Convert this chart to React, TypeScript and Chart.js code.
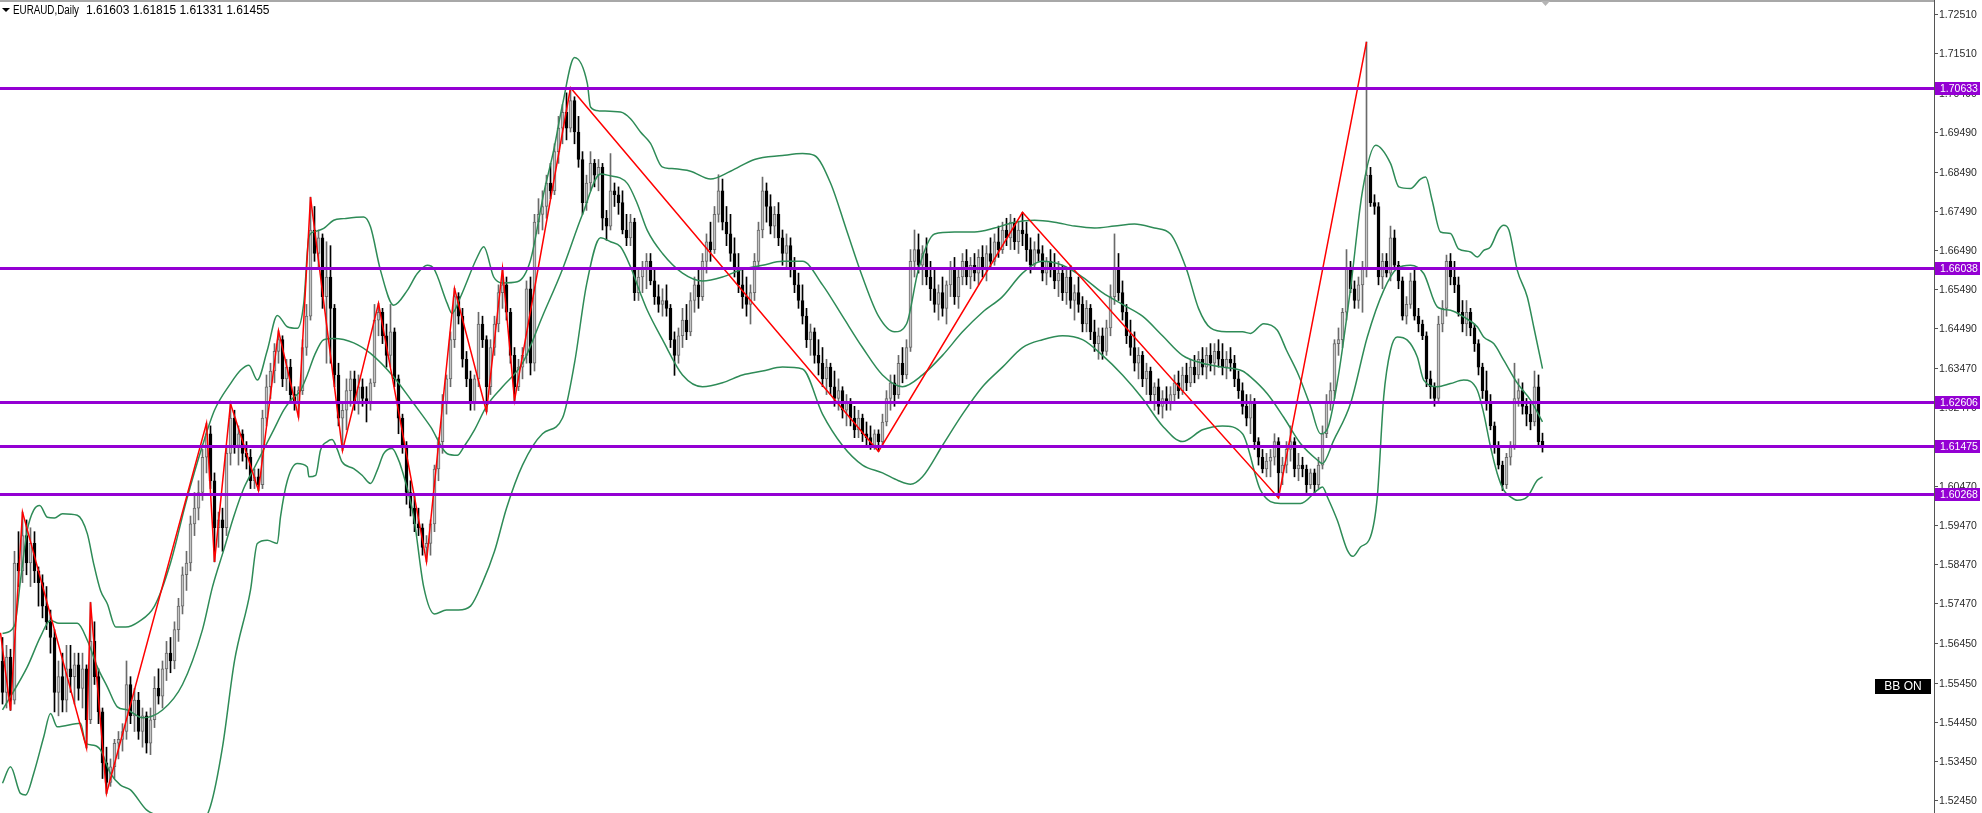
import React, { useEffect, useRef } from "react";
import { Chart, registerables } from "chart.js";

Chart.register(...registerables);

const opens = [
1.5600,1.5520,1.5610,1.5500,1.5850,1.5830,1.5920,1.5850,1.5900,1.5830,
1.5800,1.5740,1.5700,1.5660,1.5520,1.5560,1.5500,1.5580,1.5560,1.5590,
1.5530,1.5580,1.5450,1.5650,1.5560,1.5470,1.5340,1.5290,1.5330,1.5390,
1.5400,1.5420,1.5540,1.5460,1.5500,1.5420,1.5460,1.5390,1.5450,1.5530,
1.5510,1.5580,1.5620,1.5600,1.5680,1.5740,1.5820,1.5850,1.5950,1.5990,
1.6030,1.6120,1.6180,1.6060,1.5940,1.5960,1.5940,1.6130,1.6220,1.6150,
1.6180,1.6130,1.6120,1.6060,1.6070,1.6050,1.6220,1.6300,1.6340,1.6390,
1.6420,1.6320,1.6350,1.6280,1.6260,1.6290,1.6400,1.6480,1.6700,1.6640,
1.6680,1.6530,1.6580,1.6500,1.6330,1.6220,1.6240,1.6290,1.6320,1.6260,
1.6300,1.6270,1.6260,1.6310,1.6470,1.6490,1.6430,1.6380,1.6440,1.6320,
1.6220,1.6150,1.6030,1.5990,1.5950,1.5940,1.5890,1.5900,1.5950,1.6090,
1.6160,1.6260,1.6320,1.6420,1.6530,1.6480,1.6370,1.6320,1.6260,1.6320,
1.6460,1.6420,1.6300,1.6400,1.6460,1.6540,1.6560,1.6490,1.6380,1.6300,
1.6350,1.6380,1.6550,1.6360,1.6720,1.6740,1.6760,1.6820,1.6800,1.6900,
1.6960,1.7000,1.6960,1.7030,1.6950,1.6880,1.6770,1.6820,1.6870,1.6840,
1.6860,1.6730,1.6710,1.6800,1.6790,1.6770,1.6700,1.6680,1.6720,1.6540,
1.6580,1.6600,1.6620,1.6570,1.6530,1.6510,1.6520,1.6500,1.6420,1.6380,
1.6430,1.6470,1.6440,1.6520,1.6560,1.6530,1.6620,1.6670,1.6650,1.6740,
1.6800,1.6720,1.6690,1.6640,1.6600,1.6560,1.6530,1.6510,1.6540,1.6620,
1.6700,1.6800,1.6760,1.6710,1.6740,1.6680,1.6640,1.6660,1.6600,1.6560,
1.6520,1.6480,1.6420,1.6440,1.6380,1.6360,1.6320,1.6350,1.6300,1.6270,
1.6290,1.6240,1.6260,1.6220,1.6190,1.6220,1.6180,1.6170,1.6150,1.6180,
1.6160,1.6210,1.6270,1.6310,1.6280,1.6360,1.6330,1.6400,1.6620,1.6650,
1.6610,1.6640,1.6580,1.6550,1.6510,1.6540,1.6500,1.6560,1.6600,1.6530,
1.6580,1.6620,1.6580,1.6610,1.6590,1.6630,1.6600,1.6640,1.6620,1.6670,
1.6650,1.6700,1.6680,1.6720,1.6670,1.6700,1.6690,1.6650,1.6610,1.6650,
1.6640,1.6590,1.6620,1.6600,1.6570,1.6590,1.6540,1.6580,1.6520,1.6540,
1.6510,1.6460,1.6500,1.6440,1.6410,1.6430,1.6390,1.6450,1.6530,1.6600,
1.6540,1.6490,1.6430,1.6400,1.6360,1.6380,1.6320,1.6340,1.6280,1.6300,
1.6250,1.6270,1.6260,1.6280,1.6310,1.6290,1.6330,1.6310,1.6350,1.6330,
1.6370,1.6350,1.6380,1.6360,1.6390,1.6370,1.6350,1.6370,1.6360,1.6320,
1.6290,1.6250,1.6220,1.6260,1.6160,1.6120,1.6090,1.6110,1.6120,1.6160,
1.6080,1.6100,1.6140,1.6160,1.6090,1.6100,1.6090,1.6050,1.6080,1.6050,
1.6100,1.6180,1.6260,1.6290,1.6410,1.6420,1.6490,1.6600,1.6550,1.6520,
1.6560,1.6600,1.6840,1.6770,1.6760,1.6580,1.6620,1.6590,1.6680,1.6610,
1.6570,1.6480,1.6510,1.6570,1.6480,1.6460,1.6430,1.6320,1.6300,1.6270,
1.6460,1.6500,1.6620,1.6580,1.6560,1.6490,1.6460,1.6490,1.6450,1.6410,
1.6350,1.6290,1.6260,1.6200,1.6150,1.6100,1.6050,1.6120,1.6150,1.6270,
1.6290,1.6250,1.6230,1.6210,1.6300,1.61603
];

const highs = [
1.5660,1.5640,1.5630,1.5880,1.5930,1.5980,1.5960,1.5940,1.5930,1.5840,
1.5820,1.5790,1.5730,1.5680,1.5600,1.5620,1.5640,1.5640,1.5620,1.5620,
1.5620,1.5590,1.5750,1.5700,1.5580,1.5480,1.5380,1.5350,1.5400,1.5420,
1.5440,1.5600,1.5560,1.5530,1.5520,1.5480,1.5470,1.5480,1.5560,1.5580,
1.5600,1.5650,1.5660,1.5700,1.5760,1.5840,1.5880,1.5970,1.6030,1.6060,
1.6140,1.6207,1.6200,1.6080,1.5980,1.5990,1.6150,1.6257,1.6240,1.6200,
1.6190,1.6160,1.6140,1.6090,1.6090,1.6240,1.6330,1.6360,1.6410,1.6443,
1.6430,1.6370,1.6370,1.6300,1.6300,1.6420,1.6510,1.6784,1.6760,1.6700,
1.6690,1.6670,1.6660,1.6510,1.6360,1.6260,1.6320,1.6340,1.6340,1.6330,
1.6320,1.6300,1.6320,1.6510,1.6513,1.6500,1.6460,1.6510,1.6450,1.6330,
1.6230,1.6160,1.6060,1.6020,1.5990,1.5950,1.5920,1.5960,1.6100,1.6170,
1.6280,1.6330,1.6440,1.6551,1.6540,1.6500,1.6390,1.6340,1.6330,1.6490,
1.6480,1.6430,1.6420,1.6480,1.6560,1.6602,1.6580,1.6500,1.6400,1.6370,
1.6400,1.6570,1.6580,1.6740,1.6780,1.6800,1.6840,1.6870,1.6920,1.6990,
1.7020,1.7050,1.7063,1.7040,1.6990,1.6900,1.6840,1.6900,1.6880,1.6880,
1.6870,1.6750,1.6895,1.6820,1.6810,1.6800,1.6740,1.6740,1.6730,1.6600,
1.6620,1.6640,1.6640,1.6600,1.6560,1.6550,1.6560,1.6510,1.6440,1.6450,
1.6500,1.6510,1.6540,1.6580,1.6600,1.6640,1.6690,1.6720,1.6760,1.6841,
1.6830,1.6760,1.6740,1.6680,1.6640,1.6600,1.6580,1.6560,1.6640,1.6720,
1.6835,1.6820,1.6790,1.6760,1.6770,1.6700,1.6690,1.6680,1.6630,1.6590,
1.6560,1.6500,1.6460,1.6450,1.6420,1.6400,1.6370,1.6360,1.6340,1.6320,
1.6300,1.6280,1.6270,1.6250,1.6240,1.6230,1.6210,1.6200,1.6190,1.6190,
1.6230,1.6290,1.6330,1.6330,1.6380,1.6400,1.6420,1.6650,1.6700,1.6690,
1.6660,1.6680,1.6620,1.6600,1.6560,1.6580,1.6570,1.6620,1.6630,1.6600,
1.6640,1.6650,1.6630,1.6640,1.6650,1.6660,1.6660,1.6680,1.6690,1.6710,
1.6720,1.6730,1.6740,1.6730,1.6720,1.6745,1.6720,1.6680,1.6670,1.6690,
1.6660,1.6630,1.6650,1.6640,1.6620,1.6610,1.6600,1.6610,1.6560,1.6580,
1.6530,1.6520,1.6510,1.6470,1.6450,1.6450,1.6470,1.6560,1.6690,1.6640,
1.6570,1.6510,1.6470,1.6440,1.6400,1.6390,1.6360,1.6350,1.6310,1.6320,
1.6290,1.6300,1.6300,1.6330,1.6340,1.6350,1.6360,1.6370,1.6380,1.6390,
1.6400,1.6400,1.6410,1.6410,1.6420,1.6410,1.6390,1.6400,1.6380,1.6340,
1.6310,1.6280,1.6280,1.6270,1.6170,1.6140,1.6130,1.6140,1.6180,1.6170,
1.6120,1.6160,1.6200,1.6170,1.6130,1.6120,1.6100,1.6090,1.6090,1.6120,
1.6200,1.6280,1.6310,1.6420,1.6450,1.6500,1.6650,1.6620,1.6570,1.6580,
1.6620,1.7180,1.6860,1.6790,1.6770,1.6640,1.6640,1.6710,1.6700,1.6620,
1.6580,1.6530,1.6590,1.6600,1.6500,1.6470,1.6440,1.6340,1.6310,1.6480,
1.6520,1.6636,1.6640,1.6620,1.6580,1.6520,1.6520,1.6500,1.6460,1.6420,
1.6360,1.6340,1.6280,1.6210,1.6160,1.6110,1.6130,1.6160,1.6360,1.6320,
1.6310,1.6270,1.6260,1.6340,1.6330,1.61815
];

const lows = [
1.5490,1.5480,1.5474,1.5490,1.5790,1.5800,1.5820,1.5790,1.5800,1.5740,
1.5710,1.5680,1.5620,1.5470,1.5460,1.5470,1.5470,1.5520,1.5490,1.5500,
1.5480,1.5378,1.5440,1.5540,1.5440,1.5300,1.5262,1.5280,1.5300,1.5350,
1.5370,1.5400,1.5440,1.5420,1.5400,1.5380,1.5365,1.5361,1.5430,1.5490,
1.5480,1.5550,1.5570,1.5580,1.5650,1.5720,1.5780,1.5830,1.5920,1.5960,
1.6010,1.6080,1.6040,1.5853,1.5890,1.5880,1.5920,1.6100,1.6130,1.6100,
1.6110,1.6090,1.6040,1.6040,1.6035,1.6040,1.6200,1.6270,1.6310,1.6360,
1.6300,1.6290,1.6260,1.6240,1.6222,1.6280,1.6380,1.6470,1.6620,1.6600,
1.6500,1.6360,1.6360,1.6300,1.6200,1.6137,1.6190,1.6250,1.6240,1.6230,
1.6250,1.6210,1.6240,1.6300,1.6430,1.6410,1.6350,1.6350,1.6300,1.6180,
1.6130,1.6000,1.5970,1.5930,1.5920,1.5870,1.5853,1.5870,1.5930,1.6060,
1.6130,1.6230,1.6300,1.6400,1.6460,1.6350,1.6300,1.6240,1.6240,1.6300,
1.6400,1.6236,1.6280,1.6380,1.6440,1.6500,1.6470,1.6360,1.6265,1.6290,
1.6320,1.6360,1.6330,1.6340,1.6690,1.6700,1.6730,1.6780,1.6790,1.6870,
1.6920,1.6930,1.6950,1.6920,1.6860,1.6740,1.6750,1.6800,1.6810,1.6800,
1.6700,1.6674,1.6700,1.6760,1.6740,1.6690,1.6660,1.6660,1.6520,1.6520,
1.6540,1.6550,1.6560,1.6510,1.6490,1.6480,1.6480,1.6400,1.6329,1.6360,
1.6400,1.6420,1.6430,1.6490,1.6500,1.6520,1.6590,1.6620,1.6640,1.6720,
1.6700,1.6660,1.6620,1.6580,1.6540,1.6500,1.6480,1.6460,1.6520,1.6600,
1.6680,1.6720,1.6690,1.6680,1.6660,1.6610,1.6600,1.6580,1.6540,1.6500,
1.6460,1.6400,1.6380,1.6360,1.6330,1.6300,1.6280,1.6280,1.6250,1.6240,
1.6220,1.6200,1.6200,1.6170,1.6170,1.6160,1.6150,1.6140,1.6140,1.6135,
1.6150,1.6200,1.6240,1.6250,1.6270,1.6310,1.6320,1.6390,1.6580,1.6590,
1.6560,1.6560,1.6520,1.6490,1.6470,1.6480,1.6460,1.6530,1.6510,1.6500,
1.6560,1.6560,1.6550,1.6570,1.6560,1.6580,1.6570,1.6600,1.6610,1.6630,
1.6640,1.6660,1.6650,1.6650,1.6640,1.6660,1.6620,1.6590,1.6600,1.6620,
1.6570,1.6560,1.6580,1.6550,1.6530,1.6520,1.6510,1.6500,1.6470,1.6490,
1.6440,1.6440,1.6420,1.6390,1.6370,1.6370,1.6380,1.6430,1.6510,1.6520,
1.6470,1.6410,1.6380,1.6340,1.6320,1.6300,1.6280,1.6260,1.6240,1.6230,
1.6220,1.6240,1.6240,1.6260,1.6270,1.6280,1.6290,1.6300,1.6310,1.6320,
1.6330,1.6320,1.6340,1.6330,1.6350,1.6330,1.6320,1.6340,1.6300,1.6270,
1.6230,1.6200,1.6180,1.6140,1.6100,1.6080,1.6070,1.6070,1.6100,1.6016,
1.6050,1.6080,1.6110,1.6070,1.6060,1.6070,1.6030,1.6040,1.6030,1.6040,
1.6090,1.6170,1.6240,1.6270,1.6380,1.6400,1.6470,1.6540,1.6500,1.6500,
1.6490,1.6580,1.6760,1.6740,1.6560,1.6550,1.6580,1.6570,1.6600,1.6550,
1.6470,1.6460,1.6500,1.6470,1.6440,1.6420,1.6300,1.6270,1.6250,1.6260,
1.6440,1.6480,1.6560,1.6540,1.6480,1.6440,1.6430,1.6430,1.6390,1.6330,
1.6270,1.6240,1.6190,1.6130,1.6090,1.6035,1.6040,1.6100,1.6140,1.6250,
1.6230,1.6200,1.6190,1.6200,1.6150,1.61331
];

const closes = [
1.5520,1.5610,1.5500,1.5850,1.5830,1.5920,1.5850,1.5900,1.5830,1.5800,
1.5740,1.5700,1.5660,1.5520,1.5560,1.5500,1.5580,1.5560,1.5590,1.5530,
1.5580,1.5450,1.5650,1.5560,1.5470,1.5340,1.5290,1.5330,1.5390,1.5400,
1.5420,1.5540,1.5460,1.5500,1.5420,1.5460,1.5390,1.5450,1.5530,1.5510,
1.5580,1.5620,1.5600,1.5680,1.5740,1.5820,1.5850,1.5950,1.5990,1.6030,
1.6120,1.6180,1.6060,1.5940,1.5960,1.5940,1.6130,1.6220,1.6150,1.6180,
1.6130,1.6120,1.6060,1.6070,1.6050,1.6220,1.6300,1.6340,1.6390,1.6420,
1.6320,1.6350,1.6280,1.6260,1.6290,1.6400,1.6480,1.6700,1.6640,1.6680,
1.6530,1.6580,1.6500,1.6330,1.6220,1.6240,1.6290,1.6320,1.6260,1.6300,
1.6270,1.6260,1.6310,1.6470,1.6490,1.6430,1.6380,1.6440,1.6320,1.6220,
1.6150,1.6030,1.5990,1.5950,1.5940,1.5890,1.5900,1.5950,1.6090,1.6160,
1.6260,1.6320,1.6420,1.6530,1.6480,1.6370,1.6320,1.6260,1.6320,1.6460,
1.6420,1.6300,1.6400,1.6460,1.6540,1.6560,1.6490,1.6380,1.6300,1.6350,
1.6380,1.6550,1.6360,1.6720,1.6740,1.6760,1.6820,1.6800,1.6900,1.6960,
1.7000,1.6960,1.7030,1.6950,1.6880,1.6770,1.6820,1.6870,1.6840,1.6860,
1.6730,1.6710,1.6800,1.6790,1.6770,1.6700,1.6680,1.6720,1.6540,1.6580,
1.6600,1.6620,1.6570,1.6530,1.6510,1.6520,1.6500,1.6420,1.6380,1.6430,
1.6470,1.6440,1.6520,1.6560,1.6530,1.6620,1.6670,1.6650,1.6740,1.6800,
1.6720,1.6690,1.6640,1.6600,1.6560,1.6530,1.6510,1.6540,1.6620,1.6700,
1.6800,1.6760,1.6710,1.6740,1.6680,1.6640,1.6660,1.6600,1.6560,1.6520,
1.6480,1.6420,1.6440,1.6380,1.6360,1.6320,1.6350,1.6300,1.6270,1.6290,
1.6240,1.6260,1.6220,1.6190,1.6220,1.6180,1.6170,1.6150,1.6180,1.6160,
1.6210,1.6270,1.6310,1.6280,1.6360,1.6330,1.6400,1.6620,1.6650,1.6610,
1.6640,1.6580,1.6550,1.6510,1.6540,1.6500,1.6560,1.6600,1.6530,1.6580,
1.6620,1.6580,1.6610,1.6590,1.6630,1.6600,1.6640,1.6620,1.6670,1.6650,
1.6700,1.6680,1.6720,1.6670,1.6700,1.6690,1.6650,1.6610,1.6650,1.6640,
1.6590,1.6620,1.6600,1.6570,1.6590,1.6540,1.6580,1.6520,1.6540,1.6510,
1.6460,1.6500,1.6440,1.6410,1.6430,1.6390,1.6450,1.6530,1.6600,1.6540,
1.6490,1.6430,1.6400,1.6360,1.6380,1.6320,1.6340,1.6280,1.6300,1.6250,
1.6270,1.6260,1.6280,1.6310,1.6290,1.6330,1.6310,1.6350,1.6330,1.6370,
1.6350,1.6380,1.6360,1.6390,1.6370,1.6350,1.6370,1.6360,1.6320,1.6290,
1.6250,1.6220,1.6260,1.6160,1.6120,1.6090,1.6110,1.6120,1.6160,1.6080,
1.6100,1.6140,1.6160,1.6090,1.6100,1.6090,1.6050,1.6080,1.6050,1.6100,
1.6180,1.6260,1.6290,1.6410,1.6420,1.6490,1.6600,1.6550,1.6520,1.6560,
1.6600,1.6840,1.6770,1.6760,1.6580,1.6620,1.6590,1.6680,1.6610,1.6570,
1.6480,1.6510,1.6570,1.6480,1.6460,1.6430,1.6320,1.6300,1.6270,1.6460,
1.6500,1.6620,1.6580,1.6560,1.6490,1.6460,1.6490,1.6450,1.6410,1.6350,
1.6290,1.6260,1.6200,1.6150,1.6100,1.6050,1.6120,1.6150,1.6270,1.6290,
1.6250,1.6230,1.6210,1.6300,1.6160,1.61455
];

const yTickValues = [
1.72510,1.71510,1.70490,1.69490,1.68490,1.67490,1.66490,1.65490,1.64490,1.63470,
1.62470,1.61470,1.60470,1.59470,1.58470,1.57470,1.56450,1.55450,1.54450,1.53450,1.52450
];

const levelValues = [1.70633, 1.66038, 1.62606, 1.61475, 1.60268];

const zigzag = [
[-0.5,1.5672],[2,1.5474],[5,1.5980],[21,1.5378],[22,1.5750],[26,1.5262],[51,1.6207],
[53,1.5853],[57,1.6257],[64,1.6035],[69,1.6443],[74,1.6222],[77,1.6784],[85,1.6137],
[94,1.6513],[106,1.5853],[113,1.6551],[121,1.6236],[125,1.6602],[128,1.6265],
[142,1.7063],[219,1.6135],[255,1.6745],[319,1.6016],[341,1.7180]
];

const bbUpper = [
[0,1.5670],[3,1.5690],[4.5,1.5806],[6.2,1.5934],[7.8,1.5985],[9.3,1.5997],[11.2,1.5967],[13,1.5965],
[15,1.5976],[18.7,1.5972],[21.2,1.5925],[22.8,1.5848],[24.5,1.5780],[26.2,1.5746],[28.3,1.5687],
[30.8,1.5687],[34,1.5700],[38,1.5740],[42,1.5850],[46,1.6010],[50,1.6150],[53,1.6240],[57,1.6308],
[59.5,1.6342],[61.6,1.6355],[63.7,1.6317],[66.2,1.6393],[68.7,1.6482],[71.2,1.6453],[73.7,1.6449],
[75.3,1.6512],[76.6,1.6682],[77.8,1.6695],[80.3,1.6704],[82.8,1.6725],[85.3,1.6729],[90.3,1.6733],
[92,1.6708],[94.5,1.6597],[97.8,1.6508],[101.2,1.6546],[103.7,1.6589],[106.2,1.6610],[107.8,1.6602],
[111.2,1.6512],[112.4,1.6487],[114.5,1.6529],[118.7,1.6631],[120.3,1.6657],[122.8,1.6580],[125,1.6565],
[128.7,1.6568],[132,1.6623],[135.3,1.6793],[137.8,1.6904],[140,1.7020],[143,1.7140],[146.2,1.7074],
[147,1.7014],[149.1,1.7004],[154.5,1.7001],[157,1.6984],[159.5,1.6950],[162,1.6921],[164.9,1.6861],
[167,1.6857],[172,1.6850],[177,1.6830],[182,1.6850],[188,1.6880],[195,1.6890],[200,1.6895],[203,1.6890],
[207,1.6820],[211,1.6700],[215,1.6580],[219,1.6480],[223,1.6440],[226,1.6460],[229,1.6600],[233,1.6690],
[238,1.6695],[243,1.6695],[248,1.6705],[253,1.6720],[258,1.6725],[263,1.6720],[268,1.6710],[273,1.6705],
[278,1.6710],[283,1.6715],[288,1.6705],[292,1.6690],[296,1.6600],[299,1.6500],[302,1.6450],[306,1.6440],
[310,1.6440],[312,1.6436],[315.3,1.6461],[318.7,1.6444],[321,1.6393],[324,1.6330],[327,1.6250],
[329.5,1.6180],[331.5,1.6200],[334,1.6330],[337,1.6550],[340,1.6800],[343.3,1.6916],[347,1.6870],
[349.1,1.6810],[352,1.6806],[354.5,1.6830],[355.8,1.6835],[357.4,1.6776],[359.5,1.6695],[362,1.6691],
[364,1.6652],[367,1.6644],[368.7,1.6631],[370.3,1.6648],[372,1.6657],[374,1.6700],[375.3,1.6712],
[376.6,1.6700],[378.7,1.6597],[381.2,1.6529],[382.8,1.6453],[385,1.6346]
];

const bbMiddle = [
[0,1.5475],[6.2,1.5585],[9.5,1.5662],[12,1.5704],[14.1,1.5696],[18.7,1.5696],[21.2,1.5653],[23.7,1.5585],
[26.2,1.5534],[28.7,1.5483],[31.2,1.5475],[35,1.5455],[40,1.5475],[45,1.5540],[50,1.5680],[52.5,1.5789],
[55.3,1.5883],[57.8,1.5968],[60.3,1.6040],[62.8,1.6090],[65.3,1.6140],[67.8,1.6190],[70.3,1.6240],
[72,1.6265],[74.5,1.6290],[76.2,1.6330],[78,1.6380],[80.3,1.6420],[82.8,1.6423],[87.8,1.6412],
[92,1.6385],[97.8,1.6325],[102.8,1.6257],[107,1.6198],[111.2,1.6129],[113.7,1.6125],[115.3,1.6146],
[118,1.6190],[121,1.6250],[125,1.6300],[130,1.6360],[135,1.6480],[140,1.6600],[145,1.6740],
[149.5,1.6843],[151.2,1.6840],[156.2,1.6819],[158.7,1.6767],[161.2,1.6699],[165,1.6640],[170,1.6590],
[175,1.6570],[180,1.6580],[185,1.6600],[190,1.6610],[195,1.6620],[200,1.6620],[205,1.6560],[210,1.6480],
[215,1.6400],[220,1.6330],[225,1.6300],[230,1.6330],[235,1.6380],[240,1.6440],[245,1.6490],[250,1.6530],
[255,1.6590],[260,1.6620],[265,1.6610],[270,1.6580],[275,1.6540],[280,1.6510],[285,1.6480],[290,1.6430],
[295,1.6380],[300,1.6360],[305,1.6350],[310,1.6340],[312,1.6325],[316.2,1.6282],[320.3,1.6222],
[324.5,1.6155],[328.7,1.6113],[330,1.6104],[332.8,1.6163],[337,1.6257],[341.2,1.6427],[345.3,1.6546],
[348.7,1.6602],[352,1.6610],[355.3,1.6589],[358.7,1.6504],[362,1.6495],[365.3,1.6478],[368.7,1.6453],
[370.3,1.6427],[372.8,1.6410],[375.3,1.6368],[378.7,1.6309],[382,1.6266],[385,1.6210]
];

const bbLower = [
[0,1.5288],[2,1.5330],[4.5,1.5262],[5.8,1.5258],[7.8,1.5313],[10.3,1.5406],[12,1.5466],[13.7,1.5432],
[19.5,1.5441],[20.8,1.5390],[22.8,1.5385],[24.5,1.5373],[27,1.5313],[29.5,1.5283],[32,1.5271],
[36,1.5220],[40,1.5200],[44,1.5170],[48,1.5170],[52,1.5230],[55,1.5380],[58,1.5600],[62,1.5781],
[63.7,1.5900],[66.2,1.5908],[68.7,1.5900],[69.5,1.5968],[71.2,1.6060],[73.7,1.6104],[76.2,1.6095],
[76.6,1.6070],[78.3,1.6074],[79.5,1.6138],[81.2,1.6160],[82.4,1.6165],[83.7,1.6140],[84.9,1.6108],
[87.8,1.6091],[89.9,1.6074],[92,1.6053],[93.7,1.6087],[95.3,1.6129],[97.4,1.6142],[98.7,1.6121],
[99.9,1.6087],[102.8,1.5968],[105.3,1.5789],[108,1.5720],[111,1.5730],[114,1.5730],[117,1.5740],
[120,1.5800],[123,1.5880],[126,1.5990],[130,1.6100],[135,1.6180],[140,1.6220],[143,1.6360],[146,1.6560],
[149.5,1.6680],[152,1.6670],[154.5,1.6657],[157,1.6606],[159.5,1.6538],[161.2,1.6495],[165,1.6420],
[170,1.6330],[175,1.6300],[180,1.6310],[185,1.6330],[190,1.6340],[195,1.6350],[200,1.6345],[205,1.6230],
[210,1.6150],[215,1.6100],[220,1.6080],[224,1.6060],[227,1.6051],[230,1.6070],[235,1.6150],[240,1.6230],
[245,1.6300],[250,1.6350],[255,1.6400],[260,1.6420],[265,1.6430],[270,1.6420],[275,1.6380],[280,1.6330],
[285,1.6270],[290,1.6200],[295,1.6160],[300,1.6190],[305,1.6200],[310,1.6180],[314.5,1.6036],
[319.5,1.6002],[324.5,1.6002],[328.7,1.6036],[330,1.6044],[331.2,1.6019],[333.7,1.5959],[336.2,1.5883],
[337.6,1.5867],[339.5,1.5891],[342,1.5917],[343.7,1.6019],[345.3,1.6274],[347,1.6393],[348.7,1.6427],
[351.2,1.6419],[353.7,1.6376],[355.3,1.6317],[358.7,1.6300],[362,1.6308],[365.3,1.6317],[368.7,1.6291],
[370.3,1.6232],[372,1.6147],[373.7,1.6078],[375.3,1.6036],[377,1.6019],[378.7,1.6010],[381.2,1.6019],
[383.7,1.6061],[385,1.6070]
];

const headerSymbol = "EURAUD,Daily";
const headerQuote = "1.61603 1.61815 1.61331 1.61455";
const badgeText = "BB ON";

const W = 1982;
const H = 813;
const AXIS_W = 48;
const LEVEL_COLOR = "#9400d3";
const BAND_COLOR = "#2e8b57";
const UP_EDGE = "#6a6a6a";
const UP_FILL = "#c4c4c4";
const AXIS_FONT = '10.5px "Liberation Sans", Arial, sans-serif';

const mt4Plugin = {
  id: "mt4Overlay",
  afterDatasetsDraw(chart: any) {
    const { ctx, chartArea: a, scales } = chart;
    const ys = scales.y;
    ctx.save();
    ctx.beginPath();
    ctx.rect(a.left, a.top, a.right - a.left, a.bottom - a.top);
    ctx.clip();
    ctx.strokeStyle = LEVEL_COLOR;
    ctx.lineWidth = 3;
    for (const v of levelValues) {
      const py = Math.round(ys.getPixelForValue(v)) + 0.5;
      ctx.beginPath();
      ctx.moveTo(a.left, py);
      ctx.lineTo(a.right, py);
      ctx.stroke();
    }
    ctx.restore();
  },
  afterDraw(chart: any) {
    const { ctx, chartArea: a, scales } = chart;
    const ys = scales.y;
    const right = Math.round(a.right);
    ctx.save();
    ctx.fillStyle = "#a8a8a8";
    ctx.fillRect(0, 0, right, 2);
    ctx.fillStyle = "#555555";
    ctx.fillRect(right, 0, 1, H);
    ctx.font = AXIS_FONT;
    ctx.textBaseline = "middle";
    ctx.textAlign = "left";
    for (const v of yTickValues) {
      const py = Math.round(ys.getPixelForValue(v));
      ctx.fillStyle = "#555555";
      ctx.fillRect(right + 1, py, 3, 1);
      ctx.fillStyle = "#2a2a2a";
      ctx.fillText(v.toFixed(5), right + 5, py + 1);
    }
    for (const v of levelValues) {
      const py = Math.round(ys.getPixelForValue(v));
      ctx.fillStyle = LEVEL_COLOR;
      ctx.fillRect(right + 1, py - 6, W - right - 3, 13);
      ctx.fillStyle = "#ffffff";
      ctx.fillText(v.toFixed(5), right + 6, py + 1);
    }
    ctx.fillStyle = "#000000";
    ctx.fillRect(1875, 679, 56, 15);
    ctx.fillStyle = "#ffffff";
    ctx.font = '12px "Liberation Sans", Arial, sans-serif';
    ctx.textAlign = "center";
    ctx.fillText(badgeText, 1903, 687);
    ctx.fillStyle = "#000000";
    ctx.beginPath();
    ctx.moveTo(2, 8);
    ctx.lineTo(10, 8);
    ctx.lineTo(6, 12);
    ctx.closePath();
    ctx.fill();
    ctx.textAlign = "left";
    ctx.font = '12px "Liberation Sans", Arial, sans-serif';
    ctx.fillText(headerSymbol, 13, 11, 66);
    ctx.fillText(headerQuote, 86, 11, 186);
    ctx.fillStyle = "#b4b4b4";
    ctx.beginPath();
    ctx.moveTo(1541, 1);
    ctx.lineTo(1550, 1);
    ctx.lineTo(1545.5, 6);
    ctx.closePath();
    ctx.fill();
    ctx.restore();
  },
};

export default function App() {
  const ref = useRef<HTMLCanvasElement | null>(null);

  useEffect(() => {
    document.body.style.margin = "0";
    const canvas = ref.current;
    if (!canvas) return;

    const isUp = closes.map((c, i) => c >= opens[i]);
    const wickData = highs.map((h, i) => ({ x: i, y: [lows[i], h] }));
    const bodyData = opens.map((o, i) => ({
      x: i,
      y: [Math.min(o, closes[i]), Math.max(o, closes[i])],
    }));
    const toXY = (arr: number[][]) => arr.map(([x, y]) => ({ x, y }));
    const band = (label: string, arr: number[][]) => ({
      type: "line",
      label,
      data: toXY(arr),
      borderColor: BAND_COLOR,
      borderWidth: 1.5,
      pointRadius: 0,
      cubicInterpolationMode: "monotone",
      order: 1,
    });

    const chart = new Chart(canvas, {
      type: "bar",
      data: {
        datasets: [
          {
            type: "line",
            label: "ZigZag",
            data: toXY(zigzag),
            borderColor: "#ff0000",
            borderWidth: 1.5,
            pointRadius: 0,
            tension: 0,
            order: 0,
          } as any,
          band("BB upper", bbUpper) as any,
          band("BB middle", bbMiddle) as any,
          band("BB lower", bbLower) as any,
          {
            type: "bar",
            label: "bodies",
            data: bodyData as any,
            backgroundColor: isUp.map((u) => (u ? UP_FILL : "#000000")),
            borderColor: isUp.map((u) => (u ? UP_EDGE : "#000000")),
            borderWidth: 1,
            borderSkipped: false,
            barThickness: 3,
            minBarLength: 1,
            grouped: false,
            order: 2,
          } as any,
          {
            type: "bar",
            label: "wicks",
            data: wickData as any,
            backgroundColor: isUp.map((u) => (u ? UP_EDGE : "#000000")),
            borderWidth: 0,
            barThickness: 1,
            grouped: false,
            order: 3,
          } as any,
        ],
      },
      options: {
        responsive: false,
        animation: false,
        devicePixelRatio: 1,
        layout: { padding: { left: 0, right: AXIS_W, top: 0, bottom: 0 } },
        plugins: { legend: { display: false }, tooltip: { enabled: false } },
        events: [],
        scales: {
          x: { type: "linear", min: -0.625, max: 482.875, offset: false, display: false },
          y: { type: "linear", min: 1.5212, max: 1.7287, display: false, beginAtZero: false },
        },
      } as any,
      plugins: [mt4Plugin],
    });
    return () => chart.destroy();
  }, []);

  return (
    <div style={{ position: "fixed", left: 0, top: 0, width: W, height: H, background: "#ffffff" }}>
      <canvas ref={ref} width={W} height={H} style={{ width: W, height: H, display: "block" }} />
    </div>
  );
}
